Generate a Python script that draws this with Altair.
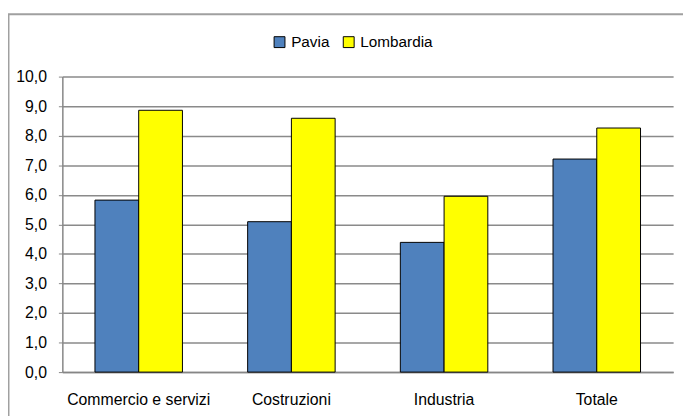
import altair as alt
import pandas as pd

categories = ["Commercio e servizi", "Costruzioni", "Industria", "Totale"]
series = ["Pavia", "Lombardia"]
pavia = [5.82, 5.09, 4.39, 7.21]
lombardia = [8.86, 8.59, 5.95, 8.26]
y_ticks = [0, 1, 2, 3, 4, 5, 6, 7, 8, 9, 10]
colors = ["#4F81BD", "#FFFF00"]

rows = []
for c, p, l in zip(categories, pavia, lombardia):
    rows.append({"cat": c, "serie": "Pavia", "val": p})
    rows.append({"cat": c, "serie": "Lombardia", "val": l})
df = pd.DataFrame(rows)

FONT = "Liberation Sans"

bars = alt.Chart(df).mark_bar(stroke="#000000", strokeWidth=1).encode(
    x=alt.X("cat:N", sort=categories, title=None,
            scale=alt.Scale(paddingInner=0.427, paddingOuter=0.2135),
            axis=alt.Axis(labelAngle=0, ticks=False, labelPadding=20,
                          domainColor="#868686", domainWidth=1.5,
                          labelFont=FONT, labelFontSize=16, labelColor="#000000",
                          grid=False)),
    xOffset=alt.XOffset("serie:N", sort=series,
                        scale=alt.Scale(paddingInner=0, paddingOuter=0)),
    y=alt.Y("val:Q", title=None,
            scale=alt.Scale(domain=[0, 10], nice=False),
            axis=alt.Axis(values=y_ticks,
                          labelExpr="replace(format(datum.value, '.1f'), '.', ',')",
                          tickSize=4, labelPadding=12, tickColor="#868686",
                          domainColor="#868686", domainWidth=1.5,
                          gridColor="#8a8a8a", gridWidth=1.5,
                          labelFont=FONT, labelFontSize=16, labelColor="#000000")),
    color=alt.Color("serie:N", sort=series, title=None,
                    scale=alt.Scale(domain=series, range=colors),
                    legend=alt.Legend(orient="none", direction="horizontal",
                                      legendX=212, legendY=-43,
                                      symbolType="square", symbolSize=121,
                                      symbolStrokeColor="#000000", symbolStrokeWidth=1,
                                      symbolOpacity=1,
                                      labelFont=FONT, labelFontSize=15.5, labelColor="#000000",
                                      labelOffset=4, columnPadding=11, padding=0)),
)

frame = alt.Chart(alt.Data(values=[{"a": 1}])).mark_rect(
    fill="transparent", stroke="#a0a0a0", strokeWidth=2
).encode(
    x=alt.value(-54.5), x2=alt.value(700),
    y=alt.value(-63), y2=alt.value(500)
)

chart = alt.layer(frame, bars).properties(
    width=618, height=299,
    autosize=alt.AutoSizeParams(type="none"),
    padding={"left": 55, "top": 67, "right": 10, "bottom": 42},
).configure_view(stroke=None)

chart.save("out.html", embed_options={"renderer": "svg", "actions": False})
